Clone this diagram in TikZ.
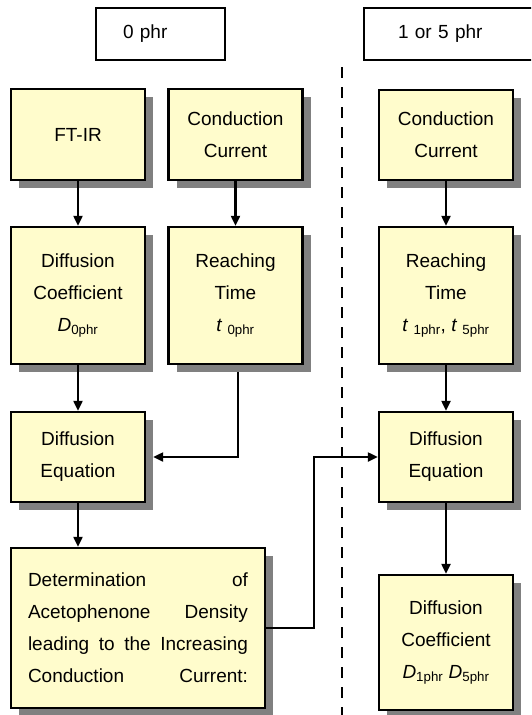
\documentclass[tikz,border=0pt]{standalone}
\usepackage{fontspec}
\setmainfont{Liberation Sans}
\usetikzlibrary{arrows.meta,shadows}
\begin{document}
\begin{tikzpicture}[x=1pt,y=-1pt,
    box/.style={draw,line width=2.4pt,fill=yellow!20,minimum width=134pt,
                drop shadow={shadow xshift=8pt,shadow yshift=-8pt,fill=gray,opacity=1}},
    hdr/.style={draw,line width=2pt,fill=white,minimum height=52pt,align=left}]
\tikzset{every node/.style={font=\fontsize{19}{32}\selectfont,align=center,inner sep=0pt}}
\tikzset{arr/.style={line width=2.2pt,-{Triangle[length=10pt,width=9pt]}}}
%\tikzset{every node/.style={font=\fontsize{18}{30}\selectfont}}
\useasboundingbox (0,0) rectangle (531,715);
\clip (0,0) rectangle (531,715);
% headers
\node[hdr,inner xsep=27pt,text width=75pt,anchor=west] (h0) at (95,34) {0 phr};
\node[hdr,inner xsep=34pt,text width=114pt,anchor=west] (h1) at (363,34) {1 or 5 phr};
% 0 phr
\node[box,minimum height=91pt] (ftir) at (78,134.5) {FT-IR};
\node[box,minimum height=91pt] (cc0) at (235.5,134.5) {Conduction\\Current};
\node[box,minimum height=137pt] (dc0) at (78,295.5)
    {Diffusion\\Coefficient\\\textit{D}\textsubscript{0phr}};
\node[box,minimum height=137pt] (rt0) at (235.5,295.5)
    {Reaching\\Time\\\textit{t} \textsubscript{0phr}};
\node[box,minimum height=90pt] (de0) at (78,457) {Diffusion\\Equation};
\node[box,minimum width=254pt,minimum height=160pt] (det) at (138,628)
    {\makebox[220pt][s]{Determination of}\\
     \makebox[220pt][s]{Acetophenone Density}\\
     \makebox[220pt][s]{leading to the Increasing}\\
     \makebox[220pt][s]{Conduction Current:}};
% 1 or 5 phr
\node[box,minimum height=90pt] (cc1) at (446,135) {Conduction\\Current};
\node[box,minimum height=137pt] (rt1) at (446,295.5)
    {Reaching\\Time\\\textit{t} \textsubscript{1phr}, \textit{t} \textsubscript{5phr}};
\node[box,minimum height=90pt] (de1) at (446,457) {Diffusion\\Equation};
\node[box,minimum height=135pt] (dc1) at (446,642.5)
    {Diffusion\\Coefficient\\\textit{D}\textsubscript{1phr} \textit{D}\textsubscript{5phr}};
% divider
\coordinate (dtop) at (342,67);
\coordinate (dbot) at (342,715);
\draw[line width=2.4pt,dash pattern=on 11pt off 9pt] (dtop) -- (dbot);
% arrows
\draw[arr] (ftir) -- (dc0);
\draw[arr] (dc0) -- (de0);
\draw[arr] (de0) -- (det.north -| de0.south);
\draw[arr] (cc0) -- (rt0);
\draw[arr,shorten <=7pt,shorten >=7pt] ([xshift=2.5pt]rt0.south) |- (de0.east);
\draw[arr] (det.east) -- ++(48,0) |- (de1.west);
\draw[arr] (cc1) -- (rt1);
\draw[arr] (rt1) -- (de1);
\draw[arr] (de1) -- (dc1);
\end{tikzpicture}
\end{document}
